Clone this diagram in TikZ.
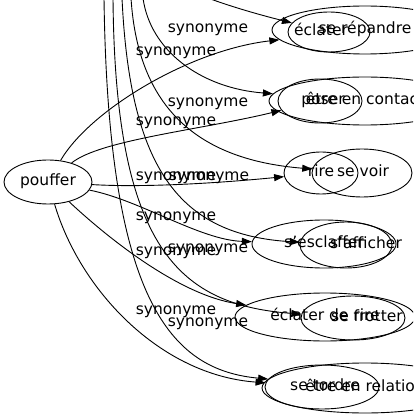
\documentclass[tikz,border=0pt]{standalone}
\usepackage{fontspec}
\setmainfont{DejaVu Sans}
\usetikzlibrary{shapes.geometric,arrows.meta}
\newcommand\shiftlab[2]{\makebox[0pt]{\hspace*{#1pt}#2}}
\begin{document}
\begin{tikzpicture}[x=1pt,y=-1pt,
  every node/.style={font=\fontsize{15.5}{18}\selectfont, text height=11pt, text depth=3.5pt, inner sep=0pt},
  ell/.style={draw, ellipse, line width=0.9pt},
  arr/.style={draw, line width=0.9pt, -{Triangle[length=10pt,width=7pt]}}]
\useasboundingbox (0,0) rectangle (413,419);
\clip (0,0) rectangle (413,419);
% source node
\node[ell, minimum width=88pt, minimum height=44pt] (pouffer) at (48,182) {\shiftlab{0}{pouffer}};
% row 1
\node[ell, minimum width=82pt, minimum height=40pt] (ecl) at (329,32) {\shiftlab{-16}{éclater}};
\node[ell, minimum width=186pt, minimum height=48pt] (sr) at (365,30) {\shiftlab{0}{se répandre}};
% row 2
\node[ell, minimum width=84pt, minimum height=44pt] (pos) at (320,101) {\shiftlab{6}{poser}};
\node[ell, minimum width=192pt, minimum height=48pt] (cont) at (365,101) {\shiftlab{0}{être en contact}};
% row 3
\node[ell, minimum width=74pt, minimum height=42pt] (rire) at (321,173) {\shiftlab{0}{rire}};
\node[ell, minimum width=100pt, minimum height=48pt] (voir) at (362,173) {\shiftlab{2}{se voir}};
% row 4
\node[ell, minimum width=144pt, minimum height=48pt] (esc) at (324,244) {\shiftlab{0}{s'esclaffer}};
\node[ell, minimum width=92pt, minimum height=46pt] (aff) at (346,245) {\shiftlab{40}{s'afficher}};
% row 5
\node[ell, minimum width=180pt, minimum height=48pt] (edr) at (325,317) {\shiftlab{0}{éclater de rire}};
\node[ell, minimum width=104pt, minimum height=44pt] (fro) at (353,318) {\shiftlab{28}{se frotter}};
% row 6
\node[ell, minimum width=114pt, minimum height=44pt] (tor) at (322,387) {\shiftlab{6}{se tordre}};
\node[ell, minimum width=206pt, minimum height=50pt] (rel) at (365,388) {\shiftlab{0}{être en relation}};
% free ends at the top
\coordinate (t1) at (200,-5);
\coordinate (t2) at (143,-2);
\coordinate (t3) at (131,-2);
\coordinate (t4) at (122,-2);
\coordinate (t5) at (113,-2);
\coordinate (t6) at (104,-2);
% edges from pouffer
\draw[arr] (pouffer) .. controls (90,110) and (190,50) .. (sr);
\draw[arr] (pouffer) .. controls (100,140) and (200,130) .. (pos);
\draw[arr] (pouffer) .. controls (150,188) and (230,182) .. (rire);
\draw[arr] (pouffer) .. controls (140,200) and (200,240) .. (esc);
\draw[arr] (pouffer) .. controls (110,240) and (180,295) .. (edr);
\draw[arr] (pouffer) .. controls (80,290) and (160,375) .. (tor);
% edges from the top
\draw[arr] (t1) .. controls (225,5) and (260,15) .. (ecl);
\draw[arr] (t2) .. controls (150,50) and (200,88) .. (cont);
\draw[arr] (t3) .. controls (138,110) and (200,160) .. (voir);
\draw[arr] (t4) .. controls (130,170) and (180,235) .. (aff);
\draw[arr] (t5) .. controls (115,250) and (180,305) .. (fro);
\draw[arr] (t6) .. controls (108,300) and (170,370) .. (rel);
% labels
\node (l1) at (208,29) {synonyme};
\node (l2) at (176,52) {synonyme};
\node (l3) at (208,103) {synonyme};
\node (l4) at (176,122) {synonyme};
\node (l5) at (176,177) {synonyme};
\node (l6) at (209,177) {synonyme};
\node (l7) at (176,217) {synonyme};
\node (l8) at (208,249) {synonyme};
\node (l9) at (176,252) {synonyme};
\node (l10) at (176,311) {synonyme};
\node (l11) at (208,323) {synonyme};
\end{tikzpicture}
\end{document}
